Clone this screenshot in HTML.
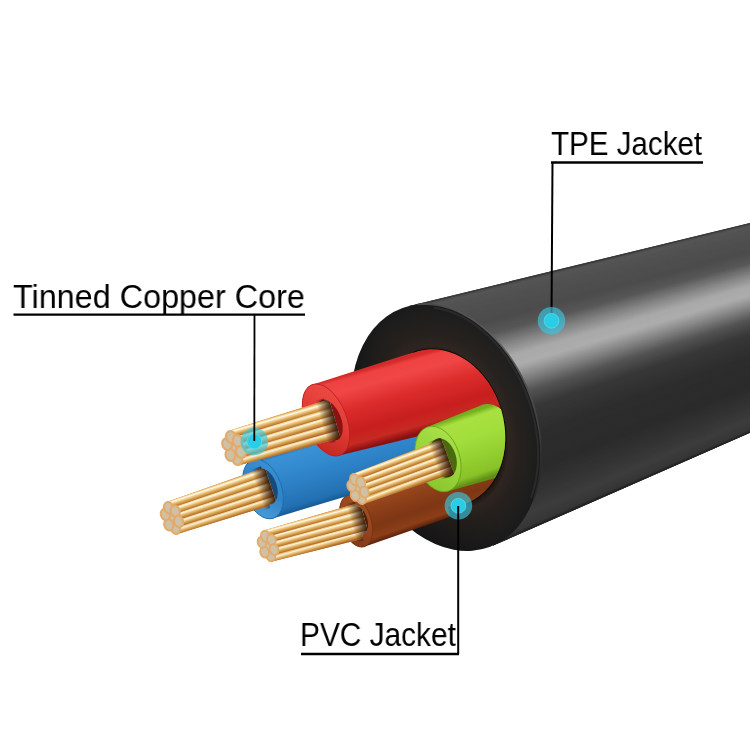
<!DOCTYPE html>
<html><head><meta charset="utf-8"><style>
html,body{margin:0;padding:0;background:#fff;width:750px;height:750px;overflow:hidden}
.wrap{position:relative;width:750px;height:750px}
svg{position:absolute;left:0;top:0}
.lbl{position:absolute;font-family:"Liberation Sans",sans-serif;color:#000;white-space:nowrap;line-height:1;transform-origin:0 0;will-change:transform}
</style></head><body><div class="wrap">
<svg width="750" height="750" viewBox="0 0 750 750">
<defs><filter id="dblur" x="-30%" y="-30%" width="160%" height="160%"><feGaussianBlur stdDeviation="0.6"/></filter><filter id="dblur2" x="-30%" y="-30%" width="160%" height="160%"><feGaussianBlur stdDeviation="0.5"/></filter><radialGradient id="faceG" cx="0.5" cy="0.5" r="0.5">
<stop offset="0.6" stop-color="#1a1310"/><stop offset="0.66" stop-color="#2e2520"/><stop offset="0.77" stop-color="#25201d"/><stop offset="0.9" stop-color="#1f1e1d"/><stop offset="1" stop-color="#1a1a1a"/></radialGradient><linearGradient id="faceOv" gradientUnits="userSpaceOnUse" x1="420" y1="300" x2="470" y2="555"><stop offset="0" stop-color="#ffffff" stop-opacity="0.03"/><stop offset="0.5" stop-color="#000" stop-opacity="0"/><stop offset="1" stop-color="#000" stop-opacity="0.4"/></linearGradient><linearGradient id="rimG" gradientUnits="userSpaceOnUse" x1="430" y1="300" x2="545" y2="470"><stop offset="0" stop-color="#4a4a4a"/><stop offset="0.35" stop-color="#606060"/><stop offset="0.7" stop-color="#4a4a4a"/><stop offset="1" stop-color="#2a2a2a"/></linearGradient><clipPath id="coreClip"><ellipse cx="440.0" cy="428.0" rx="80.0" ry="63.9" transform="rotate(73.7 440.0 428.0)" /><polygon points="-288.6,-2745.0 1149.7,3603.9 -3000.0,4000.0 -3000.0,-3000.0"/></clipPath><linearGradient id="g_brown" gradientUnits="userSpaceOnUse" x1="347.2" y1="495.5" x2="364.8" y2="546.5"><stop offset="0.000" stop-color="#6a2a0c"/><stop offset="0.100" stop-color="#a04e22"/><stop offset="0.400" stop-color="#8e4019"/><stop offset="0.700" stop-color="#7e3614"/><stop offset="0.900" stop-color="#8c3e18"/><stop offset="1.000" stop-color="#5a220a"/></linearGradient><linearGradient id="f_brown" gradientUnits="userSpaceOnUse" x1="339.8" y1="504.8" x2="369.5" y2="539.9"><stop offset="0.000" stop-color="#a04e22"/><stop offset="0.500" stop-color="#944420"/><stop offset="1.000" stop-color="#82381a"/></linearGradient><linearGradient id="g_blue" gradientUnits="userSpaceOnUse" x1="254.1" y1="459.3" x2="271.9" y2="518.7"><stop offset="0.000" stop-color="#1d5f9a"/><stop offset="0.080" stop-color="#3a92d6"/><stop offset="0.350" stop-color="#3289ce"/><stop offset="0.650" stop-color="#2a7cc0"/><stop offset="0.900" stop-color="#2270b2"/><stop offset="1.000" stop-color="#185a94"/></linearGradient><linearGradient id="f_blue" gradientUnits="userSpaceOnUse" x1="244.4" y1="470.4" x2="278.5" y2="510.7"><stop offset="0.000" stop-color="#3a90d4"/><stop offset="0.500" stop-color="#2f84c8"/><stop offset="1.000" stop-color="#4a9ad8"/></linearGradient><linearGradient id="g_red" gradientUnits="userSpaceOnUse" x1="315.8" y1="383.6" x2="336.2" y2="456.4"><stop offset="0.000" stop-color="#d42a2a"/><stop offset="0.050" stop-color="#ee4242"/><stop offset="0.200" stop-color="#f04646"/><stop offset="0.450" stop-color="#dc2c2c"/><stop offset="0.750" stop-color="#c81e1e"/><stop offset="0.900" stop-color="#c62a22"/><stop offset="1.000" stop-color="#8a1010"/></linearGradient><linearGradient id="f_red" gradientUnits="userSpaceOnUse" x1="303.2" y1="397.2" x2="345.0" y2="446.6"><stop offset="0.000" stop-color="#ee4a44"/><stop offset="0.500" stop-color="#e03a34"/><stop offset="1.000" stop-color="#c42620"/></linearGradient><linearGradient id="g_green" gradientUnits="userSpaceOnUse" x1="427.2" y1="427.1" x2="448.8" y2="490.9"><stop offset="0.000" stop-color="#72b01e"/><stop offset="0.080" stop-color="#a8e040"/><stop offset="0.350" stop-color="#a2de3c"/><stop offset="0.650" stop-color="#94d030"/><stop offset="0.900" stop-color="#88c228"/><stop offset="1.000" stop-color="#5e9016"/></linearGradient><linearGradient id="f_green" gradientUnits="userSpaceOnUse" x1="417.8" y1="438.8" x2="454.9" y2="482.6"><stop offset="0.000" stop-color="#a8e04a"/><stop offset="0.500" stop-color="#98d43a"/><stop offset="1.000" stop-color="#8cc62e"/></linearGradient><clipPath id="bc_brown"><ellipse cx="359.0" cy="520.0" rx="14.9" ry="8.2" transform="rotate(72 359.0 520.0)" /><polygon points="229.6,-68.4 488.4,1108.4 -3000.0,4000.0 -3000.0,-3000.0"/></clipPath><linearGradient id="st_brown_4" gradientUnits="userSpaceOnUse" x1="318.9" y1="542.1" x2="320.9" y2="549.2"><stop offset="0" stop-color="#d09a4a"/><stop offset="0.15" stop-color="#ecca86"/><stop offset="0.3" stop-color="#fdf2dc"/><stop offset="0.47" stop-color="#ecca86"/><stop offset="0.72" stop-color="#d09a4a"/><stop offset="1" stop-color="#aa6428"/></linearGradient><linearGradient id="st_brown_3" gradientUnits="userSpaceOnUse" x1="317.2" y1="535.7" x2="319.1" y2="542.8"><stop offset="0" stop-color="#d29c4c"/><stop offset="0.15" stop-color="#eecc8a"/><stop offset="0.3" stop-color="#fef4e1"/><stop offset="0.47" stop-color="#eecc8a"/><stop offset="0.72" stop-color="#d29c4c"/><stop offset="1" stop-color="#ae672a"/></linearGradient><linearGradient id="st_brown_2" gradientUnits="userSpaceOnUse" x1="315.5" y1="529.3" x2="317.4" y2="536.4"><stop offset="0" stop-color="#d49f4e"/><stop offset="0.15" stop-color="#efcf8d"/><stop offset="0.3" stop-color="#fef6e6"/><stop offset="0.47" stop-color="#efcf8d"/><stop offset="0.72" stop-color="#d49f4e"/><stop offset="1" stop-color="#b16a2b"/></linearGradient><linearGradient id="st_brown_1" gradientUnits="userSpaceOnUse" x1="313.7" y1="522.9" x2="315.6" y2="530.0"><stop offset="0" stop-color="#d7a250"/><stop offset="0.15" stop-color="#f0d290"/><stop offset="0.3" stop-color="#fef8eb"/><stop offset="0.47" stop-color="#f0d290"/><stop offset="0.72" stop-color="#d7a250"/><stop offset="1" stop-color="#b46d2c"/></linearGradient><linearGradient id="st_brown_0" gradientUnits="userSpaceOnUse" x1="312.0" y1="516.5" x2="313.9" y2="523.5"><stop offset="0" stop-color="#d9a452"/><stop offset="0.15" stop-color="#f2d494"/><stop offset="0.3" stop-color="#fffaf0"/><stop offset="0.47" stop-color="#f2d494"/><stop offset="0.72" stop-color="#d9a452"/><stop offset="1" stop-color="#b8702e"/></linearGradient><linearGradient id="sh_brown" gradientUnits="userSpaceOnUse" x1="351.3" y1="523.4" x2="364.8" y2="519.7"><stop offset="0" stop-color="#2a1206" stop-opacity="0"/><stop offset="0.6" stop-color="#2a1206" stop-opacity="0.55"/><stop offset="1" stop-color="#2a1206" stop-opacity="0.9"/></linearGradient><clipPath id="bc_blue"><ellipse cx="265.5" cy="486.5" rx="18.6" ry="11.1" transform="rotate(70 265.5 486.5)" /><polygon points="103.4,-246.8 427.6,1219.8 -3000.0,4000.0 -3000.0,-3000.0"/></clipPath><linearGradient id="st_blue_4" gradientUnits="userSpaceOnUse" x1="224.6" y1="511.4" x2="227.0" y2="518.8"><stop offset="0" stop-color="#d09a4a"/><stop offset="0.15" stop-color="#ecca86"/><stop offset="0.3" stop-color="#fdf2dc"/><stop offset="0.47" stop-color="#ecca86"/><stop offset="0.72" stop-color="#d09a4a"/><stop offset="1" stop-color="#aa6428"/></linearGradient><linearGradient id="st_blue_3" gradientUnits="userSpaceOnUse" x1="222.4" y1="504.7" x2="224.8" y2="512.1"><stop offset="0" stop-color="#d29c4c"/><stop offset="0.15" stop-color="#eecc8a"/><stop offset="0.3" stop-color="#fef4e1"/><stop offset="0.47" stop-color="#eecc8a"/><stop offset="0.72" stop-color="#d29c4c"/><stop offset="1" stop-color="#ae672a"/></linearGradient><linearGradient id="st_blue_2" gradientUnits="userSpaceOnUse" x1="220.2" y1="498.0" x2="222.6" y2="505.4"><stop offset="0" stop-color="#d49f4e"/><stop offset="0.15" stop-color="#efcf8d"/><stop offset="0.3" stop-color="#fef6e6"/><stop offset="0.47" stop-color="#efcf8d"/><stop offset="0.72" stop-color="#d49f4e"/><stop offset="1" stop-color="#b16a2b"/></linearGradient><linearGradient id="st_blue_1" gradientUnits="userSpaceOnUse" x1="217.9" y1="491.3" x2="220.4" y2="498.7"><stop offset="0" stop-color="#d7a250"/><stop offset="0.15" stop-color="#f0d290"/><stop offset="0.3" stop-color="#fef8eb"/><stop offset="0.47" stop-color="#f0d290"/><stop offset="0.72" stop-color="#d7a250"/><stop offset="1" stop-color="#b46d2c"/></linearGradient><linearGradient id="st_blue_0" gradientUnits="userSpaceOnUse" x1="215.7" y1="484.6" x2="218.2" y2="492.0"><stop offset="0" stop-color="#d9a452"/><stop offset="0.15" stop-color="#f2d494"/><stop offset="0.3" stop-color="#fffaf0"/><stop offset="0.47" stop-color="#f2d494"/><stop offset="0.72" stop-color="#d9a452"/><stop offset="1" stop-color="#b8702e"/></linearGradient><linearGradient id="sh_blue" gradientUnits="userSpaceOnUse" x1="257.5" y1="489.8" x2="270.7" y2="485.4"><stop offset="0" stop-color="#2a1206" stop-opacity="0"/><stop offset="0.6" stop-color="#2a1206" stop-opacity="0.55"/><stop offset="1" stop-color="#2a1206" stop-opacity="0.9"/></linearGradient><clipPath id="bc_red"><ellipse cx="329.5" cy="420.0" rx="21.3" ry="11.5" transform="rotate(68 329.5 420.0)" /><polygon points="104.9,-407.9 554.1,1247.9 -3000.0,4000.0 -3000.0,-3000.0"/></clipPath><linearGradient id="st_red_4" gradientUnits="userSpaceOnUse" x1="287.4" y1="443.7" x2="289.7" y2="451.6"><stop offset="0" stop-color="#d09a4a"/><stop offset="0.15" stop-color="#ecca86"/><stop offset="0.3" stop-color="#fdf2dc"/><stop offset="0.47" stop-color="#ecca86"/><stop offset="0.72" stop-color="#d09a4a"/><stop offset="1" stop-color="#aa6428"/></linearGradient><linearGradient id="st_red_3" gradientUnits="userSpaceOnUse" x1="285.3" y1="436.5" x2="287.6" y2="444.4"><stop offset="0" stop-color="#d29c4c"/><stop offset="0.15" stop-color="#eecc8a"/><stop offset="0.3" stop-color="#fef4e1"/><stop offset="0.47" stop-color="#eecc8a"/><stop offset="0.72" stop-color="#d29c4c"/><stop offset="1" stop-color="#ae672a"/></linearGradient><linearGradient id="st_red_2" gradientUnits="userSpaceOnUse" x1="283.2" y1="429.3" x2="285.6" y2="437.3"><stop offset="0" stop-color="#d49f4e"/><stop offset="0.15" stop-color="#efcf8d"/><stop offset="0.3" stop-color="#fef6e6"/><stop offset="0.47" stop-color="#efcf8d"/><stop offset="0.72" stop-color="#d49f4e"/><stop offset="1" stop-color="#b16a2b"/></linearGradient><linearGradient id="st_red_1" gradientUnits="userSpaceOnUse" x1="281.2" y1="422.2" x2="283.5" y2="430.1"><stop offset="0" stop-color="#d7a250"/><stop offset="0.15" stop-color="#f0d290"/><stop offset="0.3" stop-color="#fef8eb"/><stop offset="0.47" stop-color="#f0d290"/><stop offset="0.72" stop-color="#d7a250"/><stop offset="1" stop-color="#b46d2c"/></linearGradient><linearGradient id="st_red_0" gradientUnits="userSpaceOnUse" x1="279.1" y1="415.0" x2="281.4" y2="422.9"><stop offset="0" stop-color="#d9a452"/><stop offset="0.15" stop-color="#f2d494"/><stop offset="0.3" stop-color="#fffaf0"/><stop offset="0.47" stop-color="#f2d494"/><stop offset="0.72" stop-color="#d9a452"/><stop offset="1" stop-color="#b8702e"/></linearGradient><linearGradient id="sh_red" gradientUnits="userSpaceOnUse" x1="321.4" y1="422.5" x2="334.8" y2="418.6"><stop offset="0" stop-color="#2a1206" stop-opacity="0"/><stop offset="0.6" stop-color="#2a1206" stop-opacity="0.55"/><stop offset="1" stop-color="#2a1206" stop-opacity="0.9"/></linearGradient><clipPath id="bc_green"><ellipse cx="443.0" cy="458.0" rx="20.2" ry="13.0" transform="rotate(72 443.0 458.0)" /><polygon points="298.0,-347.5 588.0,1263.5 -3000.0,4000.0 -3000.0,-3000.0"/></clipPath><linearGradient id="st_green_4" gradientUnits="userSpaceOnUse" x1="406.1" y1="481.7" x2="408.7" y2="488.6"><stop offset="0" stop-color="#d09a4a"/><stop offset="0.15" stop-color="#ecca86"/><stop offset="0.3" stop-color="#fdf2dc"/><stop offset="0.47" stop-color="#ecca86"/><stop offset="0.72" stop-color="#d09a4a"/><stop offset="1" stop-color="#aa6428"/></linearGradient><linearGradient id="st_green_3" gradientUnits="userSpaceOnUse" x1="403.9" y1="475.4" x2="406.4" y2="482.3"><stop offset="0" stop-color="#d29c4c"/><stop offset="0.15" stop-color="#eecc8a"/><stop offset="0.3" stop-color="#fef4e1"/><stop offset="0.47" stop-color="#eecc8a"/><stop offset="0.72" stop-color="#d29c4c"/><stop offset="1" stop-color="#ae672a"/></linearGradient><linearGradient id="st_green_2" gradientUnits="userSpaceOnUse" x1="401.6" y1="469.2" x2="404.1" y2="476.1"><stop offset="0" stop-color="#d49f4e"/><stop offset="0.15" stop-color="#efcf8d"/><stop offset="0.3" stop-color="#fef6e6"/><stop offset="0.47" stop-color="#efcf8d"/><stop offset="0.72" stop-color="#d49f4e"/><stop offset="1" stop-color="#b16a2b"/></linearGradient><linearGradient id="st_green_1" gradientUnits="userSpaceOnUse" x1="399.3" y1="463.0" x2="401.8" y2="469.8"><stop offset="0" stop-color="#d7a250"/><stop offset="0.15" stop-color="#f0d290"/><stop offset="0.3" stop-color="#fef8eb"/><stop offset="0.47" stop-color="#f0d290"/><stop offset="0.72" stop-color="#d7a250"/><stop offset="1" stop-color="#b46d2c"/></linearGradient><linearGradient id="st_green_0" gradientUnits="userSpaceOnUse" x1="397.0" y1="456.7" x2="399.5" y2="463.6"><stop offset="0" stop-color="#d9a452"/><stop offset="0.15" stop-color="#f2d494"/><stop offset="0.3" stop-color="#fffaf0"/><stop offset="0.47" stop-color="#f2d494"/><stop offset="0.72" stop-color="#d9a452"/><stop offset="1" stop-color="#b8702e"/></linearGradient><linearGradient id="sh_green" gradientUnits="userSpaceOnUse" x1="434.5" y1="461.1" x2="447.7" y2="456.3"><stop offset="0" stop-color="#2a1206" stop-opacity="0"/><stop offset="0.6" stop-color="#2a1206" stop-opacity="0.55"/><stop offset="1" stop-color="#2a1206" stop-opacity="0.9"/></linearGradient></defs>
<rect width="750" height="750" fill="#fff"/>
<g><polygon points="446.0,427.5 409.3,305.9 760.0,220.5 760.0,428.4 493.1,545.6" fill="#303030"/><polygon points="420.3,342.4 409.3,305.9 760.0,220.5 760.0,223.3 410.4,309.1 421.1,344.6" fill="#393939"/><polygon points="420.7,343.5 409.8,307.5 760.0,221.9 760.0,224.6 410.9,310.7 421.5,345.8" fill="#4e4e4e"/><polygon points="421.1,344.6 410.4,309.1 760.0,223.3 760.0,226.0 411.5,312.3 421.8,346.9" fill="#555555"/><polygon points="421.5,345.8 410.9,310.7 760.0,224.6 760.0,227.4 412.1,313.9 422.2,348.0" fill="#545454"/><polygon points="421.8,346.9 411.5,312.3 760.0,226.0 760.0,228.8 412.6,315.5 422.6,349.1" fill="#535353"/><polygon points="422.2,348.0 412.1,313.9 760.0,227.4 760.0,230.2 413.2,317.1 423.0,350.2" fill="#525252"/><polygon points="422.6,349.1 412.6,315.5 760.0,228.8 760.0,231.6 413.7,318.7 423.4,351.3" fill="#525252"/><polygon points="423.0,350.2 413.2,317.1 760.0,230.2 760.0,233.0 414.3,320.3 423.8,352.5" fill="#515151"/><polygon points="423.4,351.3 413.7,318.7 760.0,231.6 760.0,234.3 414.8,321.9 424.2,353.6" fill="#505050"/><polygon points="423.8,352.5 414.3,320.3 760.0,233.0 760.0,235.7 415.4,323.5 424.6,354.7" fill="#505050"/><polygon points="424.2,353.6 414.8,321.9 760.0,234.3 760.0,237.1 416.0,325.1 425.0,355.8" fill="#505050"/><polygon points="424.6,354.7 415.4,323.5 760.0,235.7 760.0,238.5 416.5,326.7 425.4,356.9" fill="#4f4f4f"/><polygon points="425.0,355.8 416.0,325.1 760.0,237.1 760.0,239.9 417.1,328.3 425.8,358.1" fill="#4f4f4f"/><polygon points="425.4,356.9 416.5,326.7 760.0,238.5 760.0,241.3 417.6,329.9 426.2,359.2" fill="#4e4e4e"/><polygon points="425.8,358.1 417.1,328.3 760.0,239.9 760.0,242.7 418.2,331.5 426.5,360.3" fill="#4e4e4e"/><polygon points="426.2,359.2 417.6,329.9 760.0,241.3 760.0,244.0 418.8,333.1 426.9,361.4" fill="#4e4e4e"/><polygon points="426.5,360.3 418.2,331.5 760.0,242.7 760.0,245.4 419.3,334.7 427.3,362.5" fill="#4e4e4e"/><polygon points="426.9,361.4 418.8,333.1 760.0,244.0 760.0,246.8 419.9,336.3 427.7,363.6" fill="#4d4d4d"/><polygon points="427.3,362.5 419.3,334.7 760.0,245.4 760.0,248.2 420.4,337.9 428.1,364.8" fill="#4d4d4d"/><polygon points="427.7,363.6 419.9,336.3 760.0,246.8 760.0,249.6 421.0,339.5 428.5,365.9" fill="#4c4c4c"/><polygon points="428.1,364.8 420.4,337.9 760.0,248.2 760.0,251.0 421.6,341.1 428.9,367.0" fill="#4c4c4c"/><polygon points="428.5,365.9 421.0,339.5 760.0,249.6 760.0,252.4 422.1,342.7 429.3,368.1" fill="#4d4d4d"/><polygon points="428.9,367.0 421.6,341.1 760.0,251.0 760.0,253.7 422.7,344.3 429.7,369.2" fill="#4e4e4e"/><polygon points="429.3,368.1 422.1,342.7 760.0,252.4 760.0,255.1 423.2,345.9 430.1,370.4" fill="#505050"/><polygon points="429.7,369.2 422.7,344.3 760.0,253.7 760.0,256.5 423.8,347.5 430.5,371.5" fill="#515151"/><polygon points="430.1,370.4 423.2,345.9 760.0,255.1 760.0,257.9 424.4,349.1 430.9,372.6" fill="#535353"/><polygon points="430.5,371.5 423.8,347.5 760.0,256.5 760.0,259.3 424.9,350.7 431.2,373.7" fill="#545454"/><polygon points="430.9,372.6 424.4,349.1 760.0,257.9 760.0,260.7 425.5,352.3 431.6,374.8" fill="#565656"/><polygon points="431.2,373.7 424.9,350.7 760.0,259.3 760.0,262.1 426.0,353.9 432.0,375.9" fill="#575757"/><polygon points="431.6,374.8 425.5,352.3 760.0,260.7 760.0,263.5 426.6,355.5 432.4,377.1" fill="#5c5c5c"/><polygon points="432.0,375.9 426.0,353.9 760.0,262.1 760.0,264.8 427.2,357.1 432.8,378.2" fill="#616161"/><polygon points="432.4,377.1 426.6,355.5 760.0,263.5 760.0,266.2 427.7,358.6 433.2,379.3" fill="#676767"/><polygon points="432.8,378.2 427.2,357.1 760.0,264.8 760.0,267.6 428.3,360.2 433.6,380.4" fill="#6c6c6c"/><polygon points="433.2,379.3 427.7,358.6 760.0,266.2 760.0,269.0 428.8,361.8 434.0,381.5" fill="#717171"/><polygon points="433.6,380.4 428.3,360.2 760.0,267.6 760.0,270.4 429.4,363.4 434.4,382.7" fill="#767676"/><polygon points="434.0,381.5 428.8,361.8 760.0,269.0 760.0,271.8 430.0,365.0 434.8,383.8" fill="#7b7b7b"/><polygon points="434.4,382.7 429.4,363.4 760.0,270.4 760.0,273.2 430.5,366.6 435.2,384.9" fill="#818181"/><polygon points="434.8,383.8 430.0,365.0 760.0,271.8 760.0,274.5 431.1,368.2 435.5,386.0" fill="#868686"/><polygon points="435.2,384.9 430.5,366.6 760.0,273.2 760.0,275.9 431.6,369.8 435.9,387.1" fill="#8a8a8a"/><polygon points="435.5,386.0 431.1,368.2 760.0,274.5 760.0,277.3 432.2,371.4 436.3,388.3" fill="#8f8f8f"/><polygon points="435.9,387.1 431.6,369.8 760.0,275.9 760.0,278.7 432.7,373.0 436.7,389.4" fill="#949494"/><polygon points="436.3,388.3 432.2,371.4 760.0,277.3 760.0,280.1 433.3,374.6 437.1,390.5" fill="#989898"/><polygon points="436.7,389.4 432.7,373.0 760.0,278.7 760.0,281.5 433.9,376.2 437.5,391.6" fill="#9d9d9d"/><polygon points="437.1,390.5 433.3,374.6 760.0,280.1 760.0,282.9 434.4,377.8 437.9,392.7" fill="#a2a2a2"/><polygon points="437.5,391.6 433.9,376.2 760.0,281.5 760.0,284.2 435.0,379.4 438.3,393.8" fill="#a7a7a7"/><polygon points="437.9,392.7 434.4,377.8 760.0,282.9 760.0,285.6 435.5,381.0 438.7,395.0" fill="#a9a9a9"/><polygon points="438.3,393.8 435.0,379.4 760.0,284.2 760.0,287.0 436.1,382.6 439.1,396.1" fill="#aaaaaa"/><polygon points="438.7,395.0 435.5,381.0 760.0,285.6 760.0,288.4 436.7,384.2 439.5,397.2" fill="#aaaaaa"/><polygon points="439.1,396.1 436.1,382.6 760.0,287.0 760.0,289.8 437.2,385.8 439.9,398.3" fill="#ababab"/><polygon points="439.5,397.2 436.7,384.2 760.0,288.4 760.0,291.2 437.8,387.4 440.2,399.4" fill="#acacac"/><polygon points="439.9,398.3 437.2,385.8 760.0,289.8 760.0,292.6 438.3,389.0 440.6,400.6" fill="#acacac"/><polygon points="440.2,399.4 437.8,387.4 760.0,291.2 760.0,293.9 438.9,390.6 441.0,401.7" fill="#adadad"/><polygon points="440.6,400.6 438.3,389.0 760.0,292.6 760.0,295.3 439.5,392.2 441.4,402.8" fill="#a9a9a9"/><polygon points="441.0,401.7 438.9,390.6 760.0,293.9 760.0,296.7 440.0,393.8 441.8,403.9" fill="#a5a5a5"/><polygon points="441.4,402.8 439.5,392.2 760.0,295.3 760.0,298.1 440.6,395.4 442.2,405.0" fill="#a0a0a0"/><polygon points="441.8,403.9 440.0,393.8 760.0,296.7 760.0,299.5 441.1,397.0 442.6,406.1" fill="#9b9b9b"/><polygon points="442.2,405.0 440.6,395.4 760.0,298.1 760.0,300.9 441.7,398.6 443.0,407.3" fill="#969696"/><polygon points="442.6,406.1 441.1,397.0 760.0,299.5 760.0,302.3 442.3,400.2 443.4,408.4" fill="#919191"/><polygon points="443.0,407.3 441.7,398.6 760.0,300.9 760.0,303.6 442.8,401.8 443.8,409.5" fill="#8c8c8c"/><polygon points="443.4,408.4 442.3,400.2 760.0,302.3 760.0,305.0 443.4,403.4 444.2,410.6" fill="#878787"/><polygon points="443.8,409.5 442.8,401.8 760.0,303.6 760.0,306.4 443.9,405.0 444.6,411.7" fill="#828282"/><polygon points="444.2,410.6 443.4,403.4 760.0,305.0 760.0,307.8 444.5,406.6 444.9,412.9" fill="#7d7d7d"/><polygon points="444.6,411.7 443.9,405.0 760.0,306.4 760.0,309.2 445.1,408.2 445.3,414.0" fill="#777777"/><polygon points="444.9,412.9 444.5,406.6 760.0,307.8 760.0,310.6 445.6,409.8 445.7,415.1" fill="#727272"/><polygon points="445.3,414.0 445.1,408.2 760.0,309.2 760.0,312.0 446.2,411.4 446.1,416.2" fill="#6c6c6c"/><polygon points="445.7,415.1 445.6,409.8 760.0,310.6 760.0,313.4 446.7,413.0 446.5,417.3" fill="#676767"/><polygon points="446.1,416.2 446.2,411.4 760.0,312.0 760.0,314.7 447.3,414.6 446.9,418.4" fill="#626262"/><polygon points="446.5,417.3 446.7,413.0 760.0,313.4 760.0,316.1 447.8,416.2 447.3,419.6" fill="#5c5c5c"/><polygon points="446.9,418.4 447.3,414.6 760.0,314.7 760.0,317.5 448.4,417.8 447.7,420.7" fill="#575757"/><polygon points="447.3,419.6 447.8,416.2 760.0,316.1 760.0,318.9 449.0,419.4 448.1,421.8" fill="#535353"/><polygon points="447.7,420.7 448.4,417.8 760.0,317.5 760.0,320.3 449.5,421.0 448.5,422.9" fill="#505050"/><polygon points="448.1,421.8 449.0,419.4 760.0,318.9 760.0,321.7 450.1,422.6 448.9,424.0" fill="#4d4d4d"/><polygon points="448.5,422.9 449.5,421.0 760.0,320.3 760.0,323.1 450.6,424.2 449.3,425.2" fill="#4b4b4b"/><polygon points="448.9,424.0 450.1,422.6 760.0,321.7 760.0,324.4 451.2,425.8 449.6,426.3" fill="#484848"/><polygon points="449.3,425.2 450.6,424.2 760.0,323.1 760.0,325.8 451.8,427.3 450.0,427.4" fill="#454545"/><polygon points="449.6,426.3 451.2,425.8 760.0,324.4 760.0,327.2 452.3,428.9 450.4,428.5" fill="#434343"/><polygon points="450.0,427.4 451.8,427.3 760.0,325.8 760.0,328.6 452.9,430.5 450.8,429.6" fill="#404040"/><polygon points="450.4,428.5 452.3,428.9 760.0,327.2 760.0,330.0 453.4,432.1 451.2,430.7" fill="#3d3d3d"/><polygon points="450.8,429.6 452.9,430.5 760.0,328.6 760.0,331.4 454.0,433.7 451.6,431.9" fill="#3b3b3b"/><polygon points="451.2,430.7 453.4,432.1 760.0,330.0 760.0,332.8 454.6,435.3 452.0,433.0" fill="#383838"/><polygon points="451.6,431.9 454.0,433.7 760.0,331.4 760.0,334.1 455.1,436.9 452.4,434.1" fill="#373737"/><polygon points="452.0,433.0 454.6,435.3 760.0,332.8 760.0,335.5 455.7,438.5 452.8,435.2" fill="#373737"/><polygon points="452.4,434.1 455.1,436.9 760.0,334.1 760.0,336.9 456.2,440.1 453.2,436.3" fill="#363636"/><polygon points="452.8,435.2 455.7,438.5 760.0,335.5 760.0,338.3 456.8,441.7 453.6,437.5" fill="#353535"/><polygon points="453.2,436.3 456.2,440.1 760.0,336.9 760.0,339.7 457.4,443.3 453.9,438.6" fill="#353535"/><polygon points="453.6,437.5 456.8,441.7 760.0,338.3 760.0,341.1 457.9,444.9 454.3,439.7" fill="#343434"/><polygon points="453.9,438.6 457.4,443.3 760.0,339.7 760.0,342.5 458.5,446.5 454.7,440.8" fill="#333333"/><polygon points="454.3,439.7 457.9,444.9 760.0,341.1 760.0,343.8 459.0,448.1 455.1,441.9" fill="#333333"/><polygon points="454.7,440.8 458.5,446.5 760.0,342.5 760.0,345.2 459.6,449.7 455.5,443.1" fill="#323232"/><polygon points="455.1,441.9 459.0,448.1 760.0,343.8 760.0,346.6 460.2,451.3 455.9,444.2" fill="#313131"/><polygon points="455.5,443.1 459.6,449.7 760.0,345.2 760.0,348.0 460.7,452.9 456.3,445.3" fill="#313131"/><polygon points="455.9,444.2 460.2,451.3 760.0,346.6 760.0,349.4 461.3,454.5 456.7,446.4" fill="#303030"/><polygon points="456.3,445.3 460.7,452.9 760.0,348.0 760.0,350.8 461.8,456.1 457.1,447.5" fill="#2f2f2f"/><polygon points="456.7,446.4 461.3,454.5 760.0,349.4 760.0,352.2 462.4,457.7 457.5,448.6" fill="#2f2f2f"/><polygon points="457.1,447.5 461.8,456.1 760.0,350.8 760.0,353.5 462.9,459.3 457.9,449.8" fill="#2e2e2e"/><polygon points="457.5,448.6 462.4,457.7 760.0,352.2 760.0,354.9 463.5,460.9 458.3,450.9" fill="#2d2d2d"/><polygon points="457.9,449.8 462.9,459.3 760.0,353.5 760.0,356.3 464.1,462.5 458.6,452.0" fill="#2d2d2d"/><polygon points="458.3,450.9 463.5,460.9 760.0,354.9 760.0,357.7 464.6,464.1 459.0,453.1" fill="#2d2d2d"/><polygon points="458.6,452.0 464.1,462.5 760.0,356.3 760.0,359.1 465.2,465.7 459.4,454.2" fill="#2d2d2d"/><polygon points="459.0,453.1 464.6,464.1 760.0,357.7 760.0,360.5 465.7,467.3 459.8,455.4" fill="#2d2d2d"/><polygon points="459.4,454.2 465.2,465.7 760.0,359.1 760.0,361.9 466.3,468.9 460.2,456.5" fill="#2d2d2d"/><polygon points="459.8,455.4 465.7,467.3 760.0,360.5 760.0,363.3 466.9,470.5 460.6,457.6" fill="#2c2c2c"/><polygon points="460.2,456.5 466.3,468.9 760.0,361.9 760.0,364.6 467.4,472.1 461.0,458.7" fill="#2c2c2c"/><polygon points="460.6,457.6 466.9,470.5 760.0,363.3 760.0,366.0 468.0,473.7 461.4,459.8" fill="#2c2c2c"/><polygon points="461.0,458.7 467.4,472.1 760.0,364.6 760.0,367.4 468.5,475.3 461.8,460.9" fill="#2c2c2c"/><polygon points="461.4,459.8 468.0,473.7 760.0,366.0 760.0,368.8 469.1,476.9 462.2,462.1" fill="#2c2c2c"/><polygon points="461.8,460.9 468.5,475.3 760.0,367.4 760.0,370.2 469.7,478.5 462.6,463.2" fill="#2c2c2c"/><polygon points="462.2,462.1 469.1,476.9 760.0,368.8 760.0,371.6 470.2,480.1 463.0,464.3" fill="#2c2c2c"/><polygon points="462.6,463.2 469.7,478.5 760.0,370.2 760.0,373.0 470.8,481.7 463.3,465.4" fill="#2c2c2c"/><polygon points="463.0,464.3 470.2,480.1 760.0,371.6 760.0,374.3 471.3,483.3 463.7,466.5" fill="#2c2c2c"/><polygon points="463.3,465.4 470.8,481.7 760.0,373.0 760.0,375.7 471.9,484.9 464.1,467.7" fill="#2c2c2c"/><polygon points="463.7,466.5 471.3,483.3 760.0,374.3 760.0,377.1 472.5,486.5 464.5,468.8" fill="#2c2c2c"/><polygon points="464.1,467.7 471.9,484.9 760.0,375.7 760.0,378.5 473.0,488.1 464.9,469.9" fill="#2b2b2b"/><polygon points="464.5,468.8 472.5,486.5 760.0,377.1 760.0,379.9 473.6,489.7 465.3,471.0" fill="#2b2b2b"/><polygon points="464.9,469.9 473.0,488.1 760.0,378.5 760.0,381.3 474.1,491.3 465.7,472.1" fill="#2b2b2b"/><polygon points="465.3,471.0 473.6,489.7 760.0,379.9 760.0,382.7 474.7,492.9 466.1,473.2" fill="#2b2b2b"/><polygon points="465.7,472.1 474.1,491.3 760.0,381.3 760.0,384.0 475.3,494.4 466.5,474.4" fill="#2b2b2b"/><polygon points="466.1,473.2 474.7,492.9 760.0,382.7 760.0,385.4 475.8,496.0 466.9,475.5" fill="#2b2b2b"/><polygon points="466.5,474.4 475.3,494.4 760.0,384.0 760.0,386.8 476.4,497.6 467.3,476.6" fill="#2c2c2c"/><polygon points="466.9,475.5 475.8,496.0 760.0,385.4 760.0,388.2 476.9,499.2 467.7,477.7" fill="#2d2d2d"/><polygon points="467.3,476.6 476.4,497.6 760.0,386.8 760.0,389.6 477.5,500.8 468.0,478.8" fill="#2d2d2d"/><polygon points="467.7,477.7 476.9,499.2 760.0,388.2 760.0,391.0 478.0,502.4 468.4,480.0" fill="#2e2e2e"/><polygon points="468.0,478.8 477.5,500.8 760.0,389.6 760.0,392.4 478.6,504.0 468.8,481.1" fill="#2f2f2f"/><polygon points="468.4,480.0 478.0,502.4 760.0,391.0 760.0,393.7 479.2,505.6 469.2,482.2" fill="#2f2f2f"/><polygon points="468.8,481.1 478.6,504.0 760.0,392.4 760.0,395.1 479.7,507.2 469.6,483.3" fill="#303030"/><polygon points="469.2,482.2 479.2,505.6 760.0,393.7 760.0,396.5 480.3,508.8 470.0,484.4" fill="#313131"/><polygon points="469.6,483.3 479.7,507.2 760.0,395.1 760.0,397.9 480.8,510.4 470.4,485.5" fill="#313131"/><polygon points="470.0,484.4 480.3,508.8 760.0,396.5 760.0,399.3 481.4,512.0 470.8,486.7" fill="#323232"/><polygon points="470.4,485.5 480.8,510.4 760.0,397.9 760.0,400.7 482.0,513.6 471.2,487.8" fill="#333333"/><polygon points="470.8,486.7 481.4,512.0 760.0,399.3 760.0,402.1 482.5,515.2 471.6,488.9" fill="#333333"/><polygon points="471.2,487.8 482.0,513.6 760.0,400.7 760.0,403.4 483.1,516.8 472.0,490.0" fill="#343434"/><polygon points="471.6,488.9 482.5,515.2 760.0,402.1 760.0,404.8 483.6,518.4 472.3,491.1" fill="#353535"/><polygon points="472.0,490.0 483.1,516.8 760.0,403.4 760.0,406.2 484.2,520.0 472.7,492.3" fill="#363636"/><polygon points="472.3,491.1 483.6,518.4 760.0,404.8 760.0,407.6 484.8,521.6 473.1,493.4" fill="#373737"/><polygon points="472.7,492.3 484.2,520.0 760.0,406.2 760.0,409.0 485.3,523.2 473.5,494.5" fill="#373737"/><polygon points="473.1,493.4 484.8,521.6 760.0,407.6 760.0,410.4 485.9,524.8 473.9,495.6" fill="#383838"/><polygon points="473.5,494.5 485.3,523.2 760.0,409.0 760.0,411.8 486.4,526.4 474.3,496.7" fill="#393939"/><polygon points="473.9,495.6 485.9,524.8 760.0,410.4 760.0,413.2 487.0,528.0 474.7,497.8" fill="#3a3a3a"/><polygon points="474.3,496.7 486.4,526.4 760.0,411.8 760.0,414.5 487.6,529.6 475.1,499.0" fill="#3b3b3b"/><polygon points="474.7,497.8 487.0,528.0 760.0,413.2 760.0,415.9 488.1,531.2 475.5,500.1" fill="#3c3c3c"/><polygon points="475.1,499.0 487.6,529.6 760.0,414.5 760.0,417.3 488.7,532.8 475.9,501.2" fill="#3d3d3d"/><polygon points="475.5,500.1 488.1,531.2 760.0,415.9 760.0,418.7 489.2,534.4 476.3,502.3" fill="#3c3c3c"/><polygon points="475.9,501.2 488.7,532.8 760.0,417.3 760.0,420.1 489.8,536.0 476.7,503.4" fill="#3b3b3b"/><polygon points="476.3,502.3 489.2,534.4 760.0,418.7 760.0,421.5 490.4,537.6 477.0,504.6" fill="#3a3a3a"/><polygon points="476.7,503.4 489.8,536.0 760.0,420.1 760.0,422.9 490.9,539.2 477.4,505.7" fill="#393939"/><polygon points="477.0,504.6 490.4,537.6 760.0,421.5 760.0,424.2 491.5,540.8 477.8,506.8" fill="#383838"/><polygon points="477.4,505.7 490.9,539.2 760.0,422.9 760.0,425.6 492.0,542.4 478.2,507.9" fill="#373737"/><polygon points="477.8,506.8 491.5,540.8 760.0,424.2 760.0,427.0 492.6,544.0 478.6,509.0" fill="#363636"/><polygon points="478.2,507.9 492.0,542.4 760.0,425.6 760.0,428.4 493.1,545.6 479.0,510.2" fill="#2d2d2d"/><polygon points="478.6,509.0 492.6,544.0 760.0,427.0 760.0,428.4 493.1,545.6 479.0,510.2" fill="#222222"/></g><ellipse cx="446.0" cy="427.5" rx="127.2" ry="89.9" transform="rotate(70 446.0 427.5)" fill="url(#faceG)"/><ellipse cx="446.0" cy="427.5" rx="127.2" ry="89.9" transform="rotate(70 446.0 427.5)" fill="url(#faceOv)"/><path d="M417.8,304.4 L421.3,304.2 L424.8,304.1 L428.3,304.2 L431.8,304.4 L435.4,304.9 L439.0,305.5 L442.5,306.2 L446.1,307.2 L449.7,308.3 L453.3,309.6 L456.9,311.1 L460.5,312.7 L464.0,314.5 L467.5,316.5 L471.0,318.6 L474.4,320.9 L477.9,323.3 L481.2,325.9 L484.5,328.6 L487.8,331.5 L491.0,334.5 L494.1,337.6 L497.2,340.9 L500.2,344.2 L503.1,347.7 L505.9,351.4 L508.7,355.1 L511.3,358.9 L513.9,362.8 L516.3,366.9 L518.7,371.0 L521.0,375.2 L523.1,379.4 L525.2,383.8 L527.1,388.1 L528.9,392.6 L530.6,397.1 L532.2,401.6 L533.6,406.2 L535.0,410.8 L536.2,415.5 L537.2,420.1 L538.2,424.8 L539.0,429.5 L539.7,434.1 L540.2,438.8 L540.6,443.4 L540.9,448.0 L541.0,452.6 L541.0,457.2 L540.9,461.7 L540.6,466.1 L540.2,470.5 L539.6,474.9 L539.0,479.2 L538.2,483.4 L537.2,487.5 L536.2,491.5 L535.0,495.5 L533.6,499.3" fill="none" stroke="url(#rimG)" stroke-width="1.6"/><path d="M434.0,307.7 L437.2,308.2 L440.4,308.8 L443.6,309.6 L446.8,310.5 L450.0,311.6 L453.2,312.8 L456.4,314.1 L459.6,315.6 L462.8,317.2 L465.9,319.0 L469.1,320.9 L472.2,322.9 L475.2,325.0 L478.3,327.3 L481.2,329.7 L484.2,332.2 L487.1,334.9 L489.9,337.6 L492.7,340.4 L495.5,343.4 L498.2,346.5 L500.8,349.6 L503.3,352.9 L505.8,356.2 L508.2,359.7 L510.5,363.2 L512.8,366.8 L515.0,370.4 L517.0,374.2 L519.0,378.0 L521.0,381.8 L522.8,385.7 L524.5,389.7 L526.1,393.7 L527.7,397.8 L529.1,401.9 L530.4,406.0 L531.7,410.1 L532.8,414.3 L533.8,418.5 L534.7,422.7 L535.5,426.9 L536.2,431.1 L536.8,435.3 L537.3,439.5 L537.6,443.7 L537.9,447.8 L538.0,451.9 L538.0,456.0 L538.0,460.1 L537.8,464.1 L537.5,468.1 L537.0,472.1 L536.5,475.9 L535.9,479.8 L535.1,483.5 L534.2,487.2 L533.3,490.8 L532.2,494.3 L531.0,497.8" fill="none" stroke="#2a2a2a" stroke-width="2"/><ellipse cx="440.0" cy="428.0" rx="80.0" ry="63.9" transform="rotate(73.7 440.0 428.0)" fill="#1a1310" stroke="#0a0706" stroke-width="1.5"/><g clip-path="url(#coreClip)"><polygon points="339.5,512.2 339.5,510.9 339.6,509.7 339.7,508.4 339.8,507.3 340.0,506.1 340.3,505.0 340.5,504.0 340.9,503.0 341.2,502.0 341.6,501.1 342.1,500.2 342.6,499.4 343.1,498.7 343.7,498.0 344.2,497.4 344.9,496.8 345.5,496.4 346.2,495.9 346.9,495.6 347.7,495.3 497.7,443.3 498.4,443.1 499.2,443.0 500.0,442.9 500.8,442.9 501.6,443.0 502.5,443.1 503.3,443.4 504.2,443.7 505.0,444.0 505.9,444.4 506.8,444.9 507.6,445.5 508.5,446.1 509.3,446.8 510.2,447.6 511.0,448.4 511.8,449.2 512.6,450.2 513.4,451.1 514.2,452.1 514.9,453.2 515.6,454.3 516.3,455.5 517.0,456.7 517.6,457.9 518.2,459.1 518.8,460.4 519.3,461.7 519.8,463.0 520.3,464.4 520.7,465.7 521.1,467.1 521.4,468.4 521.7,469.8 521.9,471.2 522.1,472.5 522.3,473.9 522.4,475.2 522.5,476.5 522.5,477.8 522.5,479.1 522.4,480.3 522.3,481.6 522.2,482.7 522.0,483.9 521.7,485.0 521.5,486.0 521.1,487.0 520.8,488.0 520.4,488.9 519.9,489.8 519.4,490.6 518.9,491.3 518.3,492.0 517.8,492.6 517.1,493.2 516.5,493.6 515.8,494.1 515.1,494.4 514.3,494.7 364.3,546.7 363.6,546.9 362.8,547.0 362.0,547.1 361.2,547.1 360.4,547.0 359.5,546.9 358.7,546.6 357.8,546.3 357.0,546.0 356.1,545.6 355.2,545.1 354.4,544.5 353.5,543.9 352.7,543.2 351.8,542.4 351.0,541.6 350.2,540.8 349.4,539.8 348.6,538.9 347.8,537.9 347.1,536.8 346.4,535.7 345.7,534.5 345.0,533.3 344.4,532.1 343.8,530.9 343.2,529.6 342.7,528.3 342.2,527.0 341.7,525.6 341.3,524.3 340.9,522.9 340.6,521.6 340.3,520.2 340.1,518.8 339.9,517.5 339.7,516.1 339.6,514.8 339.5,513.5" fill="url(#g_brown)"/><ellipse cx="356.0" cy="521.0" rx="27.0" ry="15.0" transform="rotate(72 356.0 521.0)" fill="url(#f_brown)" stroke="#7a3410" stroke-width="0.8"/><ellipse cx="359.0" cy="520.0" rx="14.9" ry="8.2" transform="rotate(72 359.0 520.0)" fill="#4a1c08"/><polygon points="242.6,479.9 242.6,478.4 242.7,477.0 242.8,475.6 243.0,474.2 243.2,472.9 243.5,471.6 243.8,470.3 244.2,469.2 244.6,468.0 245.1,466.9 245.7,465.9 246.2,465.0 246.9,464.1 247.5,463.3 248.3,462.5 249.0,461.8 249.8,461.2 250.6,460.7 251.5,460.2 252.4,459.9 253.3,459.6 453.3,399.6 454.3,399.4 455.2,399.2 456.2,399.2 457.3,399.2 458.3,399.3 459.3,399.5 460.4,399.8 461.4,400.2 462.5,400.6 463.6,401.1 464.6,401.7 465.7,402.4 466.8,403.1 467.8,403.9 468.8,404.8 469.8,405.8 470.8,406.8 471.8,407.8 472.8,409.0 473.7,410.1 474.6,411.4 475.4,412.7 476.3,414.0 477.0,415.3 477.8,416.8 478.5,418.2 479.2,419.7 479.8,421.2 480.4,422.7 480.9,424.2 481.4,425.8 481.8,427.3 482.2,428.9 482.5,430.4 482.8,432.0 483.0,433.5 483.2,435.1 483.3,436.6 483.4,438.1 483.4,439.6 483.3,441.0 483.2,442.4 483.0,443.8 482.8,445.1 482.5,446.4 482.2,447.7 481.8,448.8 481.4,450.0 480.9,451.1 480.3,452.1 479.8,453.0 479.1,453.9 478.5,454.7 477.7,455.5 477.0,456.2 476.2,456.8 475.4,457.3 474.5,457.8 473.6,458.1 472.7,458.4 272.7,518.4 271.7,518.6 270.8,518.8 269.8,518.8 268.7,518.8 267.7,518.7 266.7,518.5 265.6,518.2 264.6,517.8 263.5,517.4 262.4,516.9 261.4,516.3 260.3,515.6 259.2,514.9 258.2,514.1 257.2,513.2 256.2,512.2 255.2,511.2 254.2,510.2 253.2,509.0 252.3,507.9 251.4,506.6 250.6,505.3 249.7,504.0 249.0,502.7 248.2,501.2 247.5,499.8 246.8,498.3 246.2,496.8 245.6,495.3 245.1,493.8 244.6,492.2 244.2,490.7 243.8,489.1 243.5,487.6 243.2,486.0 243.0,484.5 242.8,482.9 242.7,481.4" fill="url(#g_blue)"/><ellipse cx="263.0" cy="489.0" rx="31.0" ry="18.5" transform="rotate(70 263.0 489.0)" fill="url(#f_blue)" stroke="#1e6aa8" stroke-width="0.8"/><ellipse cx="265.5" cy="486.5" rx="18.6" ry="11.1" transform="rotate(70 265.5 486.5)" fill="#174a78"/></g><g clip-path="url(#bc_brown)"><polygon points="263.8,530.6 360.1,502.4 369.5,537.0 272.2,561.4" fill="#d08a48"/><polygon points="270.4,554.8 367.5,529.5 369.5,537.0 272.2,561.4" fill="url(#st_brown_4)"/><polygon points="268.7,548.7 365.7,522.7 367.7,530.2 270.6,555.4" fill="url(#st_brown_3)"/><polygon points="267.1,542.7 363.8,516.0 365.8,523.4 268.9,549.3" fill="url(#st_brown_2)"/><polygon points="265.4,536.6 362.0,509.2 364.0,516.6 267.3,543.3" fill="url(#st_brown_1)"/><polygon points="263.8,530.6 360.1,502.4 362.2,509.9 265.6,537.2" fill="url(#st_brown_0)"/><polygon points="346.1,504.1 359.6,500.5 370.0,538.9 356.5,542.6" fill="url(#sh_brown)"/></g><ellipse cx="268.0" cy="546.0" rx="4.3" ry="5.5" transform="rotate(-15.2 268.0 546.0)" fill="#d0c0a4" stroke="#e2aa6c" stroke-width="1.9"/><ellipse cx="270.7" cy="555.9" rx="4.3" ry="5.5" transform="rotate(-15.2 270.7 555.9)" fill="#d0c0a4" stroke="#e2aa6c" stroke-width="1.9"/><ellipse cx="264.6" cy="552.2" rx="4.3" ry="5.5" transform="rotate(-15.2 264.6 552.2)" fill="#d0c0a4" stroke="#e2aa6c" stroke-width="1.9"/><ellipse cx="262.0" cy="542.3" rx="4.3" ry="5.5" transform="rotate(-15.2 262.0 542.3)" fill="#d0c0a4" stroke="#e2aa6c" stroke-width="1.9"/><ellipse cx="265.3" cy="536.1" rx="4.3" ry="5.5" transform="rotate(-15.2 265.3 536.1)" fill="#d0c0a4" stroke="#e2aa6c" stroke-width="1.9"/><ellipse cx="271.4" cy="539.8" rx="4.3" ry="5.5" transform="rotate(-15.2 271.4 539.8)" fill="#d0c0a4" stroke="#e2aa6c" stroke-width="1.9"/><ellipse cx="274.0" cy="549.7" rx="4.3" ry="5.5" transform="rotate(-15.2 274.0 549.7)" fill="#d0c0a4" stroke="#e2aa6c" stroke-width="1.9"/><g clip-path="url(#bc_blue)"><polygon points="166.7,501.9 264.8,467.4 276.7,503.5 177.3,534.1" fill="#d08a48"/><polygon points="175.0,527.2 274.1,495.7 276.7,503.5 177.3,534.1" fill="url(#st_blue_4)"/><polygon points="172.9,520.8 271.8,488.6 274.4,496.4 175.2,527.8" fill="url(#st_blue_3)"/><polygon points="170.8,514.5 269.5,481.5 272.0,489.3 173.2,521.5" fill="url(#st_blue_2)"/><polygon points="168.8,508.2 267.1,474.4 269.7,482.3 171.1,515.2" fill="url(#st_blue_1)"/><polygon points="166.7,501.9 264.8,467.4 267.4,475.2 169.0,508.8" fill="url(#st_blue_0)"/><polygon points="250.8,469.7 264.1,465.3 277.4,505.5 264.1,509.9" fill="url(#sh_blue)"/></g><ellipse cx="172.0" cy="518.0" rx="4.5" ry="5.8" transform="rotate(-18.3 172.0 518.0)" fill="#d0c0a4" stroke="#e2aa6c" stroke-width="2.0"/><ellipse cx="175.4" cy="528.3" rx="4.5" ry="5.8" transform="rotate(-18.3 175.4 528.3)" fill="#d0c0a4" stroke="#e2aa6c" stroke-width="2.0"/><ellipse cx="168.8" cy="524.8" rx="4.5" ry="5.8" transform="rotate(-18.3 168.8 524.8)" fill="#d0c0a4" stroke="#e2aa6c" stroke-width="2.0"/><ellipse cx="165.4" cy="514.5" rx="4.5" ry="5.8" transform="rotate(-18.3 165.4 514.5)" fill="#d0c0a4" stroke="#e2aa6c" stroke-width="2.0"/><ellipse cx="168.6" cy="507.7" rx="4.5" ry="5.8" transform="rotate(-18.3 168.6 507.7)" fill="#d0c0a4" stroke="#e2aa6c" stroke-width="2.0"/><ellipse cx="175.2" cy="511.2" rx="4.5" ry="5.8" transform="rotate(-18.3 175.2 511.2)" fill="#d0c0a4" stroke="#e2aa6c" stroke-width="2.0"/><ellipse cx="178.6" cy="521.5" rx="4.5" ry="5.8" transform="rotate(-18.3 178.6 521.5)" fill="#d0c0a4" stroke="#e2aa6c" stroke-width="2.0"/><g clip-path="url(#coreClip)"><polygon points="302.3,405.5 302.3,403.8 302.3,402.1 302.5,400.5 302.7,399.0 303.0,397.5 303.3,396.0 303.7,394.6 304.2,393.3 304.7,392.1 305.3,390.9 305.9,389.9 306.6,388.9 307.3,388.0 308.1,387.1 309.0,386.4 309.9,385.8 310.8,385.2 311.8,384.8 312.8,384.4 470.8,334.1 472.0,333.8 473.3,333.6 474.5,333.5 475.8,333.6 477.2,333.7 478.6,334.0 479.9,334.4 481.3,334.9 482.8,335.5 484.2,336.2 485.6,337.0 487.0,338.0 488.5,339.0 489.9,340.1 491.3,341.3 492.7,342.6 494.1,344.0 495.4,345.5 496.7,347.1 498.0,348.7 499.3,350.5 500.5,352.2 501.7,354.1 502.9,356.0 504.0,357.9 505.0,359.9 506.0,362.0 507.0,364.1 507.9,366.2 508.7,368.3 509.4,370.5 510.2,372.6 510.8,374.8 511.4,377.0 511.8,379.1 512.3,381.3 512.6,383.4 512.9,385.5 513.1,387.6 513.2,389.7 513.3,391.7 513.3,393.6 513.2,395.5 513.0,397.4 512.8,399.2 512.5,400.9 512.1,402.6 511.6,404.2 511.1,405.7 510.5,407.1 509.8,408.4 509.1,409.7 508.3,410.8 507.5,411.9 506.6,412.8 505.6,413.6 504.6,414.4 503.5,415.0 502.4,415.5 501.2,415.9 339.2,455.6 338.2,455.8 337.1,456.0 336.0,456.1 334.8,456.0 333.7,455.9 332.5,455.6 331.3,455.3 330.1,454.9 328.8,454.4 327.6,453.7 326.3,453.0 325.1,452.2 323.9,451.3 322.6,450.3 321.4,449.3 320.2,448.1 319.0,446.9 317.8,445.6 316.7,444.3 315.5,442.8 314.4,441.3 313.4,439.8 312.3,438.2 311.3,436.5 310.4,434.8 309.5,433.1 308.6,431.3 307.8,429.5 307.0,427.7 306.3,425.8 305.6,424.0 305.0,422.1 304.4,420.2 304.0,418.3 303.5,416.4 303.2,414.5 302.8,412.7 302.6,410.8 302.4,409.0 302.3,407.3" fill="url(#g_red)"/><ellipse cx="326.0" cy="420.0" rx="38.0" ry="20.5" transform="rotate(68 326.0 420.0)" fill="url(#f_red)" stroke="#b82020" stroke-width="0.8"/><ellipse cx="329.5" cy="420.0" rx="21.3" ry="11.5" transform="rotate(68 329.5 420.0)" fill="#8a1212"/></g><g clip-path="url(#bc_red)"><polygon points="229.0,430.7 329.2,399.2 340.4,438.0 239.0,465.3" fill="#d08a48"/><polygon points="236.9,457.8 338.0,429.6 340.4,438.0 239.0,465.3" fill="url(#st_red_4)"/><polygon points="234.9,451.0 335.8,422.0 338.2,430.4 237.1,458.5" fill="url(#st_red_3)"/><polygon points="232.9,444.3 333.6,414.4 336.0,422.8 235.1,451.7" fill="url(#st_red_2)"/><polygon points="230.9,437.5 331.4,406.8 333.8,415.2 233.1,445.0" fill="url(#st_red_1)"/><polygon points="229.0,430.7 329.2,399.2 331.6,407.6 231.1,438.2" fill="url(#st_red_0)"/><polygon points="315.1,401.0 328.5,397.1 341.1,440.1 327.6,444.0" fill="url(#sh_red)"/></g><ellipse cx="234.0" cy="448.0" rx="4.8" ry="6.1" transform="rotate(-16.3 234.0 448.0)" fill="#d0c0a4" stroke="#e2aa6c" stroke-width="2.1"/><ellipse cx="237.2" cy="459.0" rx="4.8" ry="6.1" transform="rotate(-16.3 237.2 459.0)" fill="#d0c0a4" stroke="#e2aa6c" stroke-width="2.1"/><ellipse cx="230.4" cy="455.0" rx="4.8" ry="6.1" transform="rotate(-16.3 230.4 455.0)" fill="#d0c0a4" stroke="#e2aa6c" stroke-width="2.1"/><ellipse cx="227.1" cy="444.0" rx="4.8" ry="6.1" transform="rotate(-16.3 227.1 444.0)" fill="#d0c0a4" stroke="#e2aa6c" stroke-width="2.1"/><ellipse cx="230.8" cy="437.0" rx="4.8" ry="6.1" transform="rotate(-16.3 230.8 437.0)" fill="#d0c0a4" stroke="#e2aa6c" stroke-width="2.1"/><ellipse cx="237.6" cy="441.0" rx="4.8" ry="6.1" transform="rotate(-16.3 237.6 441.0)" fill="#d0c0a4" stroke="#e2aa6c" stroke-width="2.1"/><ellipse cx="240.9" cy="452.0" rx="4.8" ry="6.1" transform="rotate(-16.3 240.9 452.0)" fill="#d0c0a4" stroke="#e2aa6c" stroke-width="2.1"/><g clip-path="url(#coreClip)"><polygon points="414.9,450.4 414.9,448.8 415.0,447.2 415.2,445.6 415.4,444.0 415.7,442.5 416.0,441.1 416.5,439.7 416.9,438.3 417.4,437.0 418.0,435.8 418.7,434.6 419.4,433.5 420.1,432.4 420.9,431.5 421.7,430.6 422.6,429.8 423.5,429.0 424.5,428.4 425.5,427.8 426.5,427.3 481.4,405.2 482.5,404.7 483.7,404.4 485.0,404.2 486.2,404.0 487.5,404.0 488.8,404.0 490.1,404.2 491.4,404.4 492.8,404.8 494.1,405.2 495.4,405.8 496.8,406.4 498.1,407.1 499.4,408.0 500.7,408.9 502.0,409.9 503.2,410.9 504.4,412.1 505.6,413.3 506.8,414.6 507.9,416.0 509.0,417.4 510.1,418.9 511.1,420.5 512.1,422.1 513.0,423.8 513.8,425.5 514.6,427.2 515.4,429.0 516.1,430.8 516.7,432.6 517.3,434.5 517.8,436.3 518.2,438.2 518.6,440.1 518.9,442.0 519.1,443.9 519.3,445.7 519.4,447.6 519.4,449.4 519.4,451.2 519.3,453.0 519.1,454.8 518.9,456.5 518.5,458.1 518.2,459.7 517.7,461.3 517.2,462.8 516.6,464.2 516.0,465.6 515.3,466.8 514.5,468.1 513.7,469.2 512.8,470.3 511.9,471.3 510.9,472.1 509.9,473.0 508.9,473.7 507.8,474.3 506.6,474.8 505.5,475.3 504.3,475.6 447.3,491.4 446.2,491.6 445.1,491.7 443.9,491.7 442.7,491.7 441.5,491.6 440.3,491.3 439.1,491.0 437.9,490.6 436.7,490.1 435.5,489.5 434.3,488.9 433.1,488.1 431.9,487.3 430.8,486.4 429.6,485.4 428.5,484.4 427.4,483.3 426.4,482.1 425.3,480.8 424.3,479.5 423.4,478.2 422.5,476.7 421.6,475.3 420.8,473.8 420.0,472.2 419.2,470.6 418.6,469.0 417.9,467.4 417.4,465.7 416.8,464.0 416.4,462.3 416.0,460.6 415.6,458.9 415.4,457.2 415.2,455.5 415.0,453.8 414.9,452.1" fill="url(#g_green)"/><ellipse cx="438.0" cy="459.0" rx="33.7" ry="21.7" transform="rotate(72 438.0 459.0)" fill="url(#f_green)" stroke="#6aa018" stroke-width="0.8"/><ellipse cx="443.0" cy="458.0" rx="20.2" ry="13.0" transform="rotate(72 443.0 458.0)" fill="#4a6a10"/></g><g clip-path="url(#bc_green)"><polygon points="352.5,474.0 441.6,439.5 453.8,473.1 363.5,504.0" fill="#d08a48"/><polygon points="361.1,497.5 451.2,465.8 453.8,473.1 363.5,504.0" fill="url(#st_green_4)"/><polygon points="359.0,491.6 448.8,459.2 451.4,466.5 361.3,498.1" fill="url(#st_green_3)"/><polygon points="356.8,485.8 446.4,452.7 449.0,459.9 359.2,492.2" fill="url(#st_green_2)"/><polygon points="354.7,479.9 444.0,446.1 446.6,453.3 357.0,486.4" fill="url(#st_green_1)"/><polygon points="352.5,474.0 441.6,439.5 444.2,446.7 354.9,480.5" fill="url(#st_green_0)"/><polygon points="427.7,442.4 440.9,437.6 454.5,475.0 441.4,479.8" fill="url(#sh_green)"/></g><ellipse cx="358.0" cy="489.0" rx="4.3" ry="5.5" transform="rotate(-20.0 358.0 489.0)" fill="#d0c0a4" stroke="#e2aa6c" stroke-width="1.9"/><ellipse cx="361.5" cy="498.6" rx="4.3" ry="5.5" transform="rotate(-20.0 361.5 498.6)" fill="#d0c0a4" stroke="#e2aa6c" stroke-width="1.9"/><ellipse cx="355.2" cy="495.5" rx="4.3" ry="5.5" transform="rotate(-20.0 355.2 495.5)" fill="#d0c0a4" stroke="#e2aa6c" stroke-width="1.9"/><ellipse cx="351.7" cy="485.9" rx="4.3" ry="5.5" transform="rotate(-20.0 351.7 485.9)" fill="#d0c0a4" stroke="#e2aa6c" stroke-width="1.9"/><ellipse cx="354.5" cy="479.4" rx="4.3" ry="5.5" transform="rotate(-20.0 354.5 479.4)" fill="#d0c0a4" stroke="#e2aa6c" stroke-width="1.9"/><ellipse cx="360.8" cy="482.5" rx="4.3" ry="5.5" transform="rotate(-20.0 360.8 482.5)" fill="#d0c0a4" stroke="#e2aa6c" stroke-width="1.9"/><ellipse cx="364.3" cy="492.1" rx="4.3" ry="5.5" transform="rotate(-20.0 364.3 492.1)" fill="#d0c0a4" stroke="#e2aa6c" stroke-width="1.9"/>
<line x1="552.5" y1="162" x2="551.5" y2="320" stroke="#000" stroke-width="2"/><line x1="551" y1="162.5" x2="703" y2="162.5" stroke="#000" stroke-width="2.4"/>
<circle cx="551.5" cy="320.8" r="13.8" fill="#38c6de" fill-opacity="0.66" filter="url(#dblur)"/><circle cx="551.5" cy="320.8" r="7.4" fill="#2ccde6" stroke="#5ee0f0" stroke-width="0.7" filter="url(#dblur2)"/><circle cx="254.3" cy="441.5" r="13.8" fill="#38c6de" fill-opacity="0.66" filter="url(#dblur)"/><circle cx="254.3" cy="441.5" r="7.4" fill="#2ccde6" stroke="#5ee0f0" stroke-width="0.7" filter="url(#dblur2)"/><circle cx="458.4" cy="505.8" r="13.8" fill="#38c6de" fill-opacity="0.66" filter="url(#dblur)"/><circle cx="458.4" cy="505.8" r="7.4" fill="#2ccde6" stroke="#5ee0f0" stroke-width="0.7" filter="url(#dblur2)"/>
<line x1="254.5" y1="314.5" x2="254.3" y2="441" stroke="#000" stroke-width="1.8"/><line x1="13.5" y1="314.6" x2="305" y2="314.6" stroke="#000" stroke-width="2.4"/><line x1="458.2" y1="506" x2="458.2" y2="654" stroke="#000" stroke-width="2"/><line x1="301" y1="654" x2="459" y2="654" stroke="#000" stroke-width="2.4"/>
</svg>
<div class="lbl" style="left:551.21px;top:126.94px;font-size:33.20px;transform:scaleX(0.8906)">TPE Jacket</div>
<div class="lbl" style="left:12.95px;top:279.64px;font-size:33.20px;transform:scaleX(0.9746)">Tinned Copper Core</div>
<div class="lbl" style="left:300.11px;top:618.44px;font-size:33.20px;transform:scaleX(0.8989)">PVC Jacket</div>
</div></body></html>
